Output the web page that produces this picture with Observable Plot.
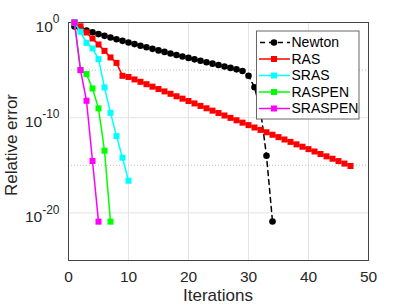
<!DOCTYPE html>
<html><head><meta charset="utf-8">
<script src="https://cdn.jsdelivr.net/npm/d3@7"></script>
<script src="https://cdn.jsdelivr.net/npm/@observablehq/plot@0.6"></script>
<style>body{margin:0;background:#fff}#chart{width:407px;height:305px}</style>
</head><body><div id="chart"></div>
<script>
// Series names and colours
const seriesNames = ["Newton", "RAS", "SRAS", "RASPEN", "SRASPEN"];
const seriesColors = ["#000000", "#ff0000", "#00ffff", "#00ff00", "#ff00ff"];

// log10(relative error) per iteration, starting at iteration 1
const newtonExp = [-0.42, -0.64, -0.84, -1.03, -1.22, -1.40, -1.58, -1.76, -1.93, -2.10,
  -2.27, -2.44, -2.60, -2.77, -2.93, -3.09, -3.25, -3.41, -3.57, -3.72,
  -3.87, -4.02, -4.17, -4.32, -4.47, -4.62, -4.77, -4.92, -5.10, -5.60,
  -6.80, -9.20, -14.00, -20.90];
const rasExp = [0, -0.40, -1.05, -1.68, -2.31, -2.98, -3.67, -4.24, -5.60, -5.72,
  -5.98, -6.23, -6.48, -6.74, -6.99, -7.24, -7.49, -7.75, -8.00, -8.25,
  -8.50, -8.76, -9.01, -9.26, -9.51, -9.77, -10.02, -10.27, -10.52, -10.78,
  -11.03, -11.28, -11.53, -11.79, -12.04, -12.29, -12.54, -12.80, -13.05, -13.30,
  -13.55, -13.81, -14.06, -14.31, -14.56, -14.82, -15.07];
const srasExp = [0, -0.98, -2.14, -2.73, -3.85, -6.82, -9.49, -11.93, -14.20, -16.62];
const raspenExp = [0, -5.00, -5.42, -6.93, -9.02, -13.47, -20.92];
const sraspenExp = [0, -5.00, -8.22, -14.55, -20.92];

// Axis ticks and grid
const xTicks = [0, 10, 20, 30, 40, 50];
const xGrid = [10, 20, 30, 40];
const yTicks = [1, 1e-10, 1e-20];
const yMajorGrid = [1e-10, 1e-20];
const yMinorGrid = [1e-5, 1e-15];
const yDomain = [1e-25, 1];
const xDomain = [0, 50];

const allExp = [newtonExp, rasExp, srasExp, raspenExp, sraspenExp];
const seriesData = allExp.map((arr, k) => arr.map((e, i) => ({series: seriesNames[k], it: i + 1, err: Math.pow(10, e)})));

const seriesMarks = [];
seriesData.forEach((data, k) => {
  const color = seriesColors[k];
  if (k === 0) {
    seriesMarks.push(Plot.line(data, {x: "it", y: "err", stroke: color, strokeWidth: 1.5, strokeDasharray: "5,4"}));
    seriesMarks.push(Plot.dot(data, {x: "it", y: "err", r: 3.3, fill: color, stroke: "none"}));
  } else {
    seriesMarks.push(Plot.line(data, {x: "it", y: "err", stroke: color, strokeWidth: 1.5}));
    seriesMarks.push(Plot.dot(data, {x: "it", y: "err", symbol: "square", r: 3.4, fill: color, stroke: "none"}));
  }
});

const chart = Plot.plot({
  width: 407, height: 305,
  marginLeft: 68, marginRight: 39, marginTop: 22, marginBottom: 45,
  style: {fontFamily: "'Liberation Sans', Arial, sans-serif", fontSize: "15.5px", background: "white", color: "#262626"},
  x: {domain: xDomain},
  y: {type: "log", domain: yDomain},
  marks: [
    Plot.ruleX(xGrid, {stroke: "#e4e4e4", strokeWidth: 1}),
    Plot.ruleY(yMajorGrid, {stroke: "#e4e4e4", strokeWidth: 1}),
    Plot.ruleY(yMinorGrid, {stroke: "#c4c4c4", strokeWidth: 1, strokeDasharray: "1,2"}),
    Plot.frame({stroke: "#444", strokeWidth: 1}),
    Plot.axisX({ticks: xTicks, tickSize: 0, tickPadding: 10, label: null, tickFormat: d => String(d)}),
    Plot.axisY({ticks: yTicks, tickSize: 0, tickPadding: 9, label: null,
      tickFormat: d => "10^" + Math.round(Math.log10(d))}),
    ...seriesMarks
  ]
});

document.getElementById("chart").appendChild(chart);
const svg = d3.select(chart);

// Superscript tick labels
svg.selectAll("text").each(function() {
  const t = this.textContent;
  if (t.startsWith("10^")) {
    const exp = t.slice(3);
    const sel = d3.select(this);
    sel.text("");
    sel.append("tspan").attr("dy", "4.2").text("10");
    sel.append("tspan").attr("dy", "-8.5").attr("font-size", "12px").text(exp.replace("−", "-"));
  }
});

// Axis titles
svg.append("text").attr("x", 218).attr("y", 301).attr("text-anchor", "middle")
  .attr("font-size", "17px").attr("fill", "#262626").text("Iterations");
svg.append("text").attr("transform", "translate(17,145) rotate(-90)").attr("text-anchor", "middle")
  .attr("font-size", "17px").attr("fill", "#262626").text("Relative error");

// Legend
const lg = svg.append("g").attr("font-size", "14px").attr("text-anchor", "start");
lg.append("rect").attr("x", 256.5).attr("y", 31).attr("width", 102.5).attr("height", 88)
  .attr("fill", "white").attr("stroke", "#666").attr("stroke-width", 1);
seriesNames.forEach((name, k) => {
  const y = 42.5 + k * 16.5;
  const color = seriesColors[k];
  const line = lg.append("line").attr("x1", 259).attr("x2", 290).attr("y1", y).attr("y2", y)
    .attr("stroke", color).attr("stroke-width", 1.5);
  if (k === 0) {
    line.attr("stroke-dasharray", "5,4").attr("stroke-dashoffset", "-1");
    lg.append("circle").attr("cx", 274).attr("cy", y).attr("r", 3.3).attr("fill", color);
  } else {
    lg.append("rect").attr("x", 271).attr("y", y - 3).attr("width", 6).attr("height", 6).attr("fill", color);
  }
  lg.append("text").attr("x", 291.5).attr("y", y).attr("dy", "0.35em").attr("text-anchor", "start")
    .attr("fill", "#000").text(name);
});
</script>
</body></html>
